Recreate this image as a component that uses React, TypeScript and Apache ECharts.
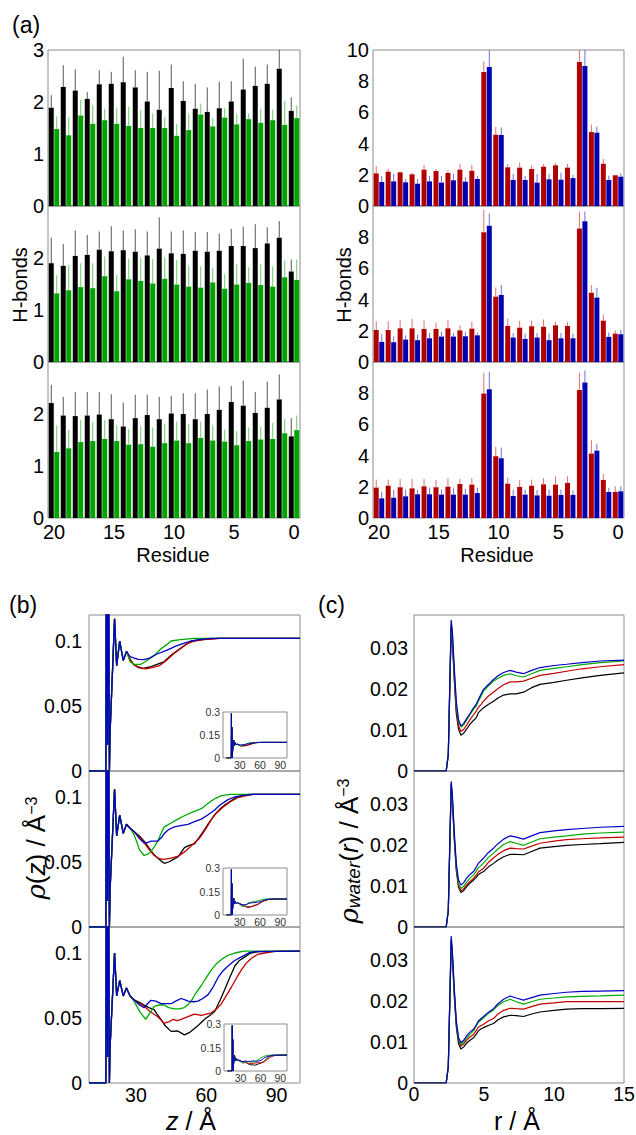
import React, { useEffect, useRef } from 'react';
import * as echarts from 'echarts';

const FONT = 'Liberation Sans, Arial, Helvetica, sans-serif';

// ---------- (a) residues ----------
const residues = ['20','19','18','17','16','15','14','13','12','11','10','9','8','7','6','5','4','3','2','1','0'];

const a1K = [1.89,2.29,2.22,2.06,2.34,2.35,2.38,2.28,2.01,1.85,2.27,2.02,1.87,1.81,1.88,2.01,2.24,2.31,2.35,2.64,1.83];
const a1KErr = [2.13,2.71,2.63,2.19,2.61,2.58,2.87,2.61,2.58,2.60,2.72,2.40,2.35,2.28,2.39,2.40,2.83,2.68,2.72,3.05,2.09];
const a1G = [1.48,1.36,1.74,1.58,1.65,1.58,1.54,1.50,1.50,1.50,1.35,1.46,1.76,1.53,1.70,1.57,1.67,1.60,1.65,1.56,1.69];
const a1GErr = [1.72,1.71,2.04,1.94,1.87,1.88,1.91,1.85,1.78,1.71,1.58,1.77,1.97,1.69,1.88,1.77,1.78,1.87,1.85,2.02,1.93];

const a2K = [1.90,1.85,2.04,2.06,2.16,2.13,2.15,2.12,2.05,2.18,2.09,2.08,2.14,2.12,2.14,2.23,2.23,2.19,2.28,2.39,1.74];
const a2KErr = [2.39,2.27,2.53,2.44,2.51,2.61,2.53,2.55,2.51,2.78,2.51,2.53,2.50,2.50,2.47,2.56,2.60,2.65,2.59,2.71,1.97];
const a2G = [1.32,1.38,1.44,1.42,1.65,1.36,1.59,1.56,1.51,1.60,1.49,1.45,1.43,1.53,1.41,1.49,1.52,1.48,1.45,1.63,1.58];
const a2GErr = [1.67,1.86,1.90,1.90,2.03,1.67,1.99,2.00,1.98,2.01,1.96,1.85,1.84,1.81,1.69,1.88,1.82,1.88,1.84,1.95,1.97];

const a3K = [2.21,1.97,1.96,1.97,1.99,1.90,1.76,1.92,1.98,1.90,2.01,2.00,1.90,2.00,2.08,2.23,2.16,2.02,2.12,2.28,1.57];
const a3KErr = [2.56,2.33,2.42,2.42,2.42,2.38,2.22,2.37,2.37,2.33,2.35,2.40,2.40,2.47,2.53,2.54,2.64,2.42,2.62,2.76,1.92];
const a3G = [1.27,1.34,1.46,1.48,1.52,1.48,1.41,1.42,1.37,1.44,1.49,1.44,1.54,1.49,1.47,1.40,1.48,1.51,1.52,1.63,1.69];
const a3GErr = [1.78,1.70,1.89,1.85,1.88,1.79,1.71,1.77,1.74,1.81,1.85,1.81,1.85,1.78,1.70,1.67,1.74,1.75,1.83,1.90,1.97];

const r1R = [2.09,2.20,2.16,2.03,2.33,2.24,2.12,2.33,2.26,8.59,4.57,2.48,2.46,2.37,2.52,2.61,2.46,9.23,4.74,2.71,1.97];
const r1RErr = [2.56,2.39,2.22,2.14,2.63,2.35,2.29,2.69,2.63,9.27,5.06,2.69,2.78,2.59,2.69,2.76,2.69,10.3,5.21,3.01,1.99];
const r1B = [1.54,1.58,1.52,1.43,1.58,1.50,1.65,1.56,1.73,8.91,4.55,1.67,1.67,1.50,1.71,1.69,1.79,8.97,4.70,1.67,1.88];
const r1BErr = [1.92,2.07,1.73,1.73,1.92,1.92,2.07,1.84,1.92,10.3,5.04,2.05,1.92,2.05,2.05,2.14,1.99,10.3,5.09,1.94,2.09];

const r2R = [2.05,2.05,2.16,2.16,2.12,2.12,2.16,2.03,2.14,8.32,4.19,2.31,2.20,2.29,2.26,2.35,2.31,8.55,4.44,2.65,1.82];
const r2RErr = [2.60,2.60,2.69,2.77,2.65,2.52,2.69,2.35,2.58,9.74,4.78,2.77,2.65,2.65,2.73,2.58,2.56,9.65,4.93,3.03,2.03];
const r2B = [1.29,1.27,1.44,1.40,1.52,1.63,1.63,1.65,1.71,8.74,4.30,1.57,1.48,1.57,1.40,1.52,1.52,9.02,4.13,1.61,1.78];
const r2BErr = [1.78,1.65,1.71,1.76,1.86,1.93,1.86,1.95,1.90,9.52,4.93,1.86,1.82,1.86,1.84,1.86,1.82,9.65,4.76,1.90,2.07];

const r3R = [1.95,2.07,1.97,1.90,2.03,1.97,2.01,2.18,2.14,7.98,3.96,2.20,1.99,2.07,2.16,2.14,2.25,8.21,4.13,2.44,1.67];
const r3RErr = [2.46,2.46,2.50,2.50,2.50,2.44,2.55,2.50,2.55,9.30,4.56,2.59,2.42,2.46,2.55,2.67,2.67,9.30,4.98,2.82,2.03];
const r3B = [1.26,1.30,1.39,1.52,1.52,1.50,1.50,1.50,1.60,8.26,3.83,1.41,1.50,1.45,1.43,1.48,1.48,8.68,4.32,1.67,1.71];
const r3BErr = [1.67,1.80,1.82,1.82,1.95,1.82,1.95,1.88,1.95,9.37,4.51,1.82,1.82,1.80,1.82,1.82,1.78,9.45,4.77,1.93,2.03];

// ---------- (b) rho(z) ----------
const b1Spike = [[10,0],[17.2,0],[17.5,0.29],[17.9,0.02],[18.3,0.2],[18.7,0.0],[19.0,0.03],[20.9,0.117],[21.8,0.081],[23.1,0.1],[24.6,0.085],[26,0.092]];
const b1Black = [[27.5,0.086],[29,0.082],[31,0.08],[33,0.079],[36,0.08],[39,0.082],[42,0.084],[45,0.089],[48,0.093],[51,0.097],[54,0.1],[58,0.101],[65,0.102],[100,0.102]];
const b1Red = [[27.5,0.086],[29,0.082],[31,0.0795],[34,0.0785],[37,0.0795],[40,0.081],[43,0.085],[46,0.09],[49,0.094],[52,0.098],[55,0.1],[59,0.101],[66,0.102],[100,0.102]];
const b1Green = [[27.5,0.084],[29.2,0.082],[32,0.082],[34,0.084],[36.4,0.087],[38.5,0.09],[40.7,0.094],[43,0.097],[45,0.1],[49,0.101],[55,0.102],[100,0.102]];
const b1Blue = [[27.5,0.088],[29,0.087],[31,0.0858],[33.5,0.0856],[36,0.087],[39,0.09],[43.3,0.093],[47,0.096],[50,0.098],[53.4,0.1],[57,0.101],[62,0.102],[100,0.102]];

const b2Spike = [[10,0],[17.2,0],[17.5,0.29],[17.9,0.02],[18.3,0.2],[18.7,0.0],[19.0,0.029],[20.9,0.106],[21.8,0.07],[23.1,0.086],[24.6,0.072],[26,0.079]];
const b2Black = [[27.5,0.076],[29.2,0.0735],[31.5,0.07],[33.5,0.066],[35.5,0.061],[37.8,0.0555],[40,0.052],[42.1,0.049],[44,0.05],[46,0.052],[48,0.054],[50.7,0.061],[53,0.063],[55,0.064],[57,0.069],[59.3,0.075],[61.5,0.081],[63.6,0.0863],[66,0.091],[68,0.094],[72.2,0.099],[78,0.102],[100,0.102]];
const b2Red = [[27.5,0.076],[29.2,0.0735],[31.5,0.069],[33.5,0.065],[35.5,0.06],[37.8,0.055],[40,0.0525],[42,0.052],[45,0.053],[48,0.0545],[51,0.058],[54,0.063],[57,0.068],[59.3,0.074],[62,0.082],[64,0.087],[67,0.092],[70,0.096],[74,0.1],[80,0.102],[100,0.102]];
const b2Green = [[27.5,0.076],[29.2,0.071],[30.5,0.065],[31.5,0.0595],[33.5,0.055],[35,0.056],[36.4,0.058],[38,0.062],[39.3,0.066],[41,0.073],[42.1,0.077],[45,0.08],[47.9,0.083],[50,0.085],[53.6,0.088],[57.9,0.091],[60,0.094],[62.2,0.097],[64,0.099],[66.5,0.101],[70,0.102],[100,0.102]];
const b2Blue = [[27.5,0.076],[29.2,0.0735],[31.5,0.068],[33.5,0.0645],[35,0.065],[36.4,0.066],[39.3,0.066],[41,0.069],[42.1,0.072],[44,0.075],[46.4,0.077],[49,0.078],[52.2,0.079],[55,0.081],[57.9,0.083],[60.5,0.086],[63.6,0.09],[66,0.094],[69.3,0.098],[72,0.1],[75,0.101],[80,0.102],[100,0.102]];

const b3Spike = [[10,0],[17.2,0],[17.5,0.29],[17.9,0.02],[18.3,0.2],[18.7,0.0],[19.0,0.028],[20.9,0.1],[21.8,0.067],[23.1,0.079],[24.6,0.067],[26,0.073]];
const b3Black = [[27.5,0.067],[29.2,0.064],[31.5,0.062],[33.5,0.06],[35.5,0.058],[37.8,0.0564],[39,0.053],[40.7,0.049],[42.5,0.044],[45,0.0397],[47.9,0.04],[50.7,0.037],[53,0.039],[55,0.042],[57,0.045],[59.3,0.049],[61.5,0.052],[63.6,0.055],[66,0.064],[67.9,0.072],[70,0.081],[72.2,0.09],[74,0.094],[76.5,0.097],[79,0.1],[82.3,0.101],[100,0.1015]];
const b3Red = [[27.5,0.067],[29.2,0.064],[31.5,0.061],[33.5,0.059],[36,0.055],[39.3,0.051],[42.1,0.046],[44,0.047],[46,0.049],[47.5,0.048],[49.3,0.049],[52.2,0.051],[55,0.053],[57.9,0.052],[60,0.053],[62.2,0.054],[64.5,0.057],[66.5,0.061],[68.5,0.067],[70.8,0.074],[73,0.081],[75,0.087],[77,0.092],[79.3,0.096],[82,0.099],[85,0.1],[90,0.1015],[100,0.1015]];
const b3Green = [[27.5,0.067],[29.2,0.063],[31,0.057],[32,0.054],[34.2,0.049],[36,0.054],[37.8,0.059],[40,0.06],[42.1,0.06],[44,0.058],[46.4,0.057],[48.5,0.057],[50.7,0.058],[52,0.06],[53.6,0.063],[55.5,0.069],[57.9,0.075],[60,0.081],[62.2,0.087],[64.5,0.092],[66.5,0.095],[69,0.098],[72.2,0.1],[76,0.1015],[100,0.1015]];
const b3Blue = [[27.5,0.067],[29.2,0.064],[31.5,0.06],[33.5,0.058],[35,0.061],[36.4,0.0636],[38.5,0.063],[40.7,0.061],[43,0.061],[45,0.061],[47,0.063],[49.3,0.065],[51,0.064],[52.2,0.063],[54.5,0.0625],[56.5,0.063],[58.5,0.065],[60.8,0.068],[63,0.074],[65,0.081],[67,0.086],[69.3,0.09],[72,0.094],[75,0.097],[78,0.1],[80.7,0.101],[100,0.1015]];

// ---------- (c) rho_water(r) ----------
const rGrid = [0,2.3,2.45,2.56,2.66,2.76,2.88,3.02,3.18,3.35,3.55,3.78,4.0,4.25,4.45,4.6,4.8,4.97,5.3,5.68,6.0,6.4,6.87,7.3,7.82,8.4,9.0,10,10.9,12,13.3,15];
const c1Blue = [0,0,0.004,0.022,0.0368,0.033,0.025,0.017,0.0125,0.011,0.0116,0.0129,0.014,0.0154,0.0163,0.0174,0.0188,0.0199,0.021,0.0223,0.0232,0.024,0.0245,0.0241,0.0237,0.0245,0.0252,0.0257,0.026,0.0264,0.0268,0.027];
const c1Green = [0,0,0.004,0.022,0.0362,0.032,0.024,0.016,0.012,0.0107,0.0112,0.0125,0.0137,0.015,0.0158,0.017,0.0183,0.0195,0.0207,0.0219,0.0226,0.0233,0.0237,0.0232,0.0229,0.0237,0.0245,0.025,0.0254,0.0259,0.0264,0.0268];
const c1Red = [0,0,0.004,0.021,0.0358,0.031,0.023,0.015,0.011,0.0096,0.0101,0.0113,0.0125,0.0137,0.0146,0.0155,0.0163,0.017,0.0182,0.0192,0.0201,0.021,0.0217,0.0217,0.0219,0.0226,0.0233,0.0238,0.0243,0.0249,0.0254,0.0259];
const c1Black = [0,0,0.004,0.02,0.0352,0.03,0.022,0.014,0.0102,0.0087,0.0092,0.0103,0.0114,0.0123,0.013,0.0142,0.0149,0.0154,0.0162,0.017,0.0178,0.0185,0.0188,0.0188,0.0192,0.0203,0.0211,0.0216,0.0221,0.0227,0.0233,0.0239];

const c2Blue = [0,0,0.004,0.021,0.0355,0.031,0.023,0.0155,0.0115,0.0102,0.0108,0.012,0.0128,0.0135,0.0146,0.0155,0.0162,0.0168,0.0181,0.0192,0.0203,0.0214,0.0222,0.0219,0.0214,0.0222,0.023,0.0234,0.0237,0.024,0.0243,0.0245];
const c2Green = [0,0,0.004,0.021,0.035,0.03,0.022,0.0148,0.0106,0.0094,0.0099,0.011,0.0119,0.0127,0.0136,0.0144,0.015,0.0156,0.0169,0.018,0.019,0.0201,0.0208,0.0204,0.0199,0.0207,0.0215,0.0219,0.0222,0.0226,0.0229,0.0231];
const c2Red = [0,0,0.004,0.02,0.0348,0.03,0.022,0.0143,0.0101,0.0088,0.0093,0.0103,0.0111,0.0118,0.0127,0.0134,0.0139,0.0143,0.0157,0.0168,0.0177,0.0186,0.0192,0.0191,0.019,0.0197,0.0204,0.0209,0.0213,0.0215,0.0217,0.0219];
const c2Black = [0,0,0.004,0.02,0.0345,0.029,0.021,0.0138,0.0097,0.0084,0.0089,0.0099,0.0107,0.0114,0.0121,0.0128,0.0132,0.0135,0.0146,0.0155,0.0163,0.0171,0.0177,0.0177,0.0176,0.0184,0.0192,0.0196,0.0199,0.0201,0.0203,0.0206];

const c3Blue = [0,0,0.004,0.021,0.0358,0.031,0.023,0.0152,0.0111,0.0098,0.0104,0.0116,0.0124,0.0131,0.0142,0.0151,0.0157,0.0162,0.0172,0.0181,0.0193,0.0204,0.0212,0.0207,0.0202,0.0208,0.0214,0.0218,0.0221,0.0223,0.0224,0.0225];
const c3Green = [0,0,0.004,0.021,0.0352,0.03,0.022,0.0148,0.0106,0.0094,0.0099,0.011,0.0119,0.0127,0.0139,0.0148,0.0154,0.0159,0.0169,0.0178,0.0189,0.0198,0.0204,0.0198,0.0192,0.0198,0.0204,0.0207,0.021,0.0211,0.0212,0.0214];
const c3Red = [0,0,0.004,0.02,0.0348,0.03,0.022,0.0145,0.0103,0.009,0.0095,0.0105,0.0112,0.0118,0.0128,0.0136,0.014,0.0143,0.0151,0.0157,0.0168,0.0177,0.0182,0.0181,0.018,0.0186,0.0192,0.0195,0.0198,0.0198,0.0198,0.0198];
const c3Black = [0,0,0.004,0.02,0.0345,0.029,0.021,0.0137,0.0096,0.0083,0.0088,0.0098,0.0104,0.011,0.0119,0.0127,0.0132,0.0135,0.014,0.0145,0.0154,0.0161,0.0165,0.0164,0.0162,0.0168,0.0173,0.0177,0.018,0.0181,0.0181,0.0182];

const hbTicksLeft = [0, 1, 2, 3];
const hbTicksRight = [0, 2, 4, 6, 8, 10];
const zTicks = [30, 60, 90];
const rhoZTicks = [0, 0.05, 0.1];
const insetYTicks = [0, 0.15, 0.3];
const rTicks = [0, 5, 10, 15];
const rhoRTicks = [0, 0.01, 0.02, 0.03];

// ---------- colours ----------
const COL = {
  barK: '#000000', barG: '#00a400', barR: '#b00000', barB: '#0000b0',
  errK: '#555555', errG: '#66cc66', errR: '#dd7070', errB: '#7070e0',
  lnK: '#000000', lnR: '#c40000', lnG: '#00aa00', lnB: '#0000c8',
};

function buildOption() {
  const grids: any[] = [
    { left: 48, top: 50, width: 252, height: 156 },
    { left: 48, top: 206, width: 252, height: 156 },
    { left: 48, top: 362, width: 252, height: 156 },
    { left: 373, top: 50, width: 251, height: 156 },
    { left: 373, top: 206, width: 251, height: 156 },
    { left: 373, top: 362, width: 251, height: 156 },
    { left: 89, top: 615, width: 211, height: 156 },
    { left: 89, top: 771, width: 211, height: 156 },
    { left: 89, top: 927, width: 211, height: 156 },
    { left: 223, top: 712, width: 64, height: 46 },
    { left: 223, top: 868, width: 64, height: 47 },
    { left: 224, top: 1024, width: 63, height: 47 },
    { left: 414, top: 615, width: 210, height: 156 },
    { left: 414, top: 771, width: 210, height: 156 },
    { left: 414, top: 927, width: 210, height: 156 },
  ].map((g, i) => ({
    ...g,
    show: true,
    borderColor: '#8c8c8c',
    borderWidth: 1,
    backgroundColor: i >= 9 && i <= 11 ? '#ffffff' : 'transparent',
    containLabel: false,
    outerBoundsMode: 'none',
    z: i >= 9 && i <= 11 ? 5 : 0,
  }));

  const xAxes: any[] = [];
  const yAxes: any[] = [];
  const series: any[] = [];

  const hidden = { axisLine: { show: false }, axisTick: { show: false }, splitLine: { show: false } };
  const lbl = (size: number, extra: any = {}) => ({ fontSize: size, lineHeight: size, color: '#000', fontFamily: FONT, ...extra });

  // bar panels
  const barPanels = [
    { g: 0, max: 3, ticks: hbTicksLeft, bottom: false, top: true, k: a1K, ke: a1KErr, s: a1G, se: a1GErr, c1: COL.barK, c2: COL.barG, e1: COL.errK, e2: COL.errG },
    { g: 1, max: 3, ticks: hbTicksLeft, bottom: false, top: false, k: a2K, ke: a2KErr, s: a2G, se: a2GErr, c1: COL.barK, c2: COL.barG, e1: COL.errK, e2: COL.errG },
    { g: 2, max: 3, ticks: hbTicksLeft, bottom: true, top: false, k: a3K, ke: a3KErr, s: a3G, se: a3GErr, c1: COL.barK, c2: COL.barG, e1: COL.errK, e2: COL.errG },
    { g: 3, max: 10, ticks: hbTicksRight, bottom: false, top: true, k: r1R, ke: r1RErr, s: r1B, se: r1BErr, c1: COL.barR, c2: COL.barB, e1: COL.errR, e2: COL.errB },
    { g: 4, max: 10, ticks: hbTicksRight, bottom: false, top: false, k: r2R, ke: r2RErr, s: r2B, se: r2BErr, c1: COL.barR, c2: COL.barB, e1: COL.errR, e2: COL.errB },
    { g: 5, max: 10, ticks: hbTicksRight, bottom: true, top: false, k: r3R, ke: r3RErr, s: r3B, se: r3BErr, c1: COL.barR, c2: COL.barB, e1: COL.errR, e2: COL.errB },
  ];
  barPanels.forEach((p) => {
    xAxes.push({
      type: 'category', gridIndex: p.g, data: residues, boundaryGap: true, ...hidden,
      axisLabel: lbl(20, { lineHeight: 18, show: p.bottom, margin: 5, interval: (_i: number, v: string) => Number(v) % 5 === 0 }),
    });
    const tv = p.top ? p.ticks : p.ticks.slice(0, -1);
    yAxes.push({
      type: 'value', gridIndex: p.g, min: 0, max: p.max, ...hidden,
      axisLabel: lbl(20, { margin: 4, customValues: tv }),
    });
    const ax = xAxes.length - 1;
    const mk = (vals: number[], errs: number[], col: string, ecol: string, off: number) => {
      series.push({ type: 'bar', xAxisIndex: ax, yAxisIndex: ax, data: vals, barWidth: 5, barGap: '10%', itemStyle: { color: col }, silent: true, z: 2 });
      series.push({
        type: 'custom', xAxisIndex: ax, yAxisIndex: ax, silent: true, z: 3,
        data: vals.map((v, i) => [i, v, errs[i]]),
        renderItem: (_params: any, api: any) => {
          const i = api.value(0); const v = api.value(1); const e = Math.min(api.value(2), p.max);
          const a = api.coord([i, v]); const b = api.coord([i, e]);
          return { type: 'line', shape: { x1: a[0] + off, y1: a[1], x2: a[0] + off, y2: b[1] }, style: { stroke: ecol, lineWidth: 1 } };
        },
      });
    };
    mk(p.k, p.ke, p.c1, p.e1, -2.75);
    mk(p.s, p.se, p.c2, p.e2, 2.75);
  });

  // (b) panels and insets
  const bSets = [
    { spike: b1Spike, k: b1Black, r: b1Red, gr: b1Green, b: b1Blue },
    { spike: b2Spike, k: b2Black, r: b2Red, gr: b2Green, b: b2Blue },
    { spike: b3Spike, k: b3Black, r: b3Red, gr: b3Green, b: b3Blue },
  ];
  const bCurves = (s: any) => [
    { d: [...s.spike, ...s.k], c: COL.lnK },
    { d: [...s.spike, ...s.r], c: COL.lnR },
    { d: [...s.spike, ...s.gr], c: COL.lnG },
    { d: [...s.spike, ...s.b], c: COL.lnB },
  ];
  bSets.forEach((s, j) => {
    xAxes.push({ type: 'value', gridIndex: 6 + j, min: 10, max: 100, ...hidden, axisLabel: lbl(19.5, { lineHeight: 16, show: j === 2, margin: 4, customValues: zTicks }) });
    yAxes.push({ type: 'value', gridIndex: 6 + j, min: 0, max: 0.12, ...hidden, axisLabel: lbl(19.5, { margin: 7, customValues: rhoZTicks }) });
    const ax = xAxes.length - 1;
    bCurves(s).forEach((cv) => series.push({ type: 'line', xAxisIndex: ax, yAxisIndex: ax, data: cv.d, symbol: 'none', silent: true, lineStyle: { color: cv.c, width: 1.3 }, z: 2 }));
  });
  bSets.forEach((s, j) => {
    xAxes.push({ type: 'value', gridIndex: 9 + j, min: 5, max: 100, ...hidden, axisLabel: lbl(10.5, { color: '#333', margin: 2, customValues: zTicks }) });
    yAxes.push({ type: 'value', gridIndex: 9 + j, min: 0, max: 0.3, ...hidden, axisLabel: lbl(10.5, { color: '#333', margin: 3, customValues: insetYTicks }) });
    const ax = xAxes.length - 1;
    bCurves(s).forEach((cv) => series.push({ type: 'line', xAxisIndex: ax, yAxisIndex: ax, data: cv.d, symbol: 'none', silent: true, lineStyle: { color: cv.c, width: 1 }, z: 6 }));
  });

  // (c) panels
  const cSets = [
    [c1Black, c1Red, c1Green, c1Blue],
    [c2Black, c2Red, c2Green, c2Blue],
    [c3Black, c3Red, c3Green, c3Blue],
  ];
  const cCols = [COL.lnK, COL.lnR, COL.lnG, COL.lnB];
  cSets.forEach((set, j) => {
    xAxes.push({ type: 'value', gridIndex: 12 + j, min: 0, max: 15, ...hidden, axisLabel: lbl(19.5, { lineHeight: 16, show: j === 2, margin: 3, customValues: rTicks }) });
    yAxes.push({ type: 'value', gridIndex: 12 + j, min: 0, max: 0.038, ...hidden, axisLabel: lbl(19.5, { margin: 6, customValues: rhoRTicks }) });
    const ax = xAxes.length - 1;
    set.forEach((vals, k) => series.push({
      type: 'line', xAxisIndex: ax, yAxisIndex: ax, data: rGrid.map((r, i) => [r, vals[i]]), symbol: 'none', silent: true,
      lineStyle: { color: cCols[k], width: 1.2 }, z: 2,
    }));
  });

  const txt = (x: number, y: number, text: string, size: number, extra: any = {}, rot = 0) => ({
    type: 'text', x, y, rotation: rot, z: 10,
    style: { text, fontSize: size, fontFamily: FONT, fill: '#000', align: 'center', verticalAlign: 'middle', ...extra },
  });

  const graphic = [
    txt(12, 25, '(a)', 23, { align: 'left' }),
    txt(20, 285, 'H-bonds', 20, {}, Math.PI / 2),
    txt(344, 285, 'H-bonds', 20, {}, Math.PI / 2),
    txt(173, 555, 'Residue', 20, { lineHeight: 20 }),
    txt(497, 555, 'Residue', 20, { lineHeight: 20 }),
    txt(9, 605, '(b)', 23, { align: 'left' }),
    txt(318, 605, '(c)', 23, { align: 'left' }),
    txt(36, 848, '{g|ρ}({i|z}) / Å{s|−3}', 26, {
      rich: {
        g: { fontSize: 26, fontStyle: 'italic', fontFamily: 'DejaVu Serif' },
        i: { fontSize: 26, fontStyle: 'italic', fontFamily: FONT },
        s: { fontSize: 16, fontFamily: FONT, verticalAlign: 'top', padding: [0, 0, 8, 0] },
      },
    }, Math.PI / 2),
    txt(349, 851, '{g|ρ}{w|water}({i|r}) / Å{s|−3}', 26, {
      rich: {
        g: { fontSize: 26, fontStyle: 'italic', fontFamily: 'DejaVu Serif' },
        w: { fontSize: 19, fontStyle: 'italic', fontFamily: FONT, verticalAlign: 'bottom', padding: [8, 0, 0, 0] },
        i: { fontSize: 26, fontStyle: 'italic', fontFamily: FONT },
        s: { fontSize: 16, fontFamily: FONT, verticalAlign: 'top', padding: [0, 0, 8, 0] },
      },
    }, Math.PI / 2),
    txt(191, 1121, '{i|z} / Å', 25, { lineHeight: 24, rich: { i: { fontSize: 25, lineHeight: 24, fontStyle: 'italic', fontFamily: FONT } } }),
    txt(517, 1121, 'r / Å', 25, { lineHeight: 24 }),
  ];

  return {
    animation: false,
    backgroundColor: '#ffffff',
    textStyle: { fontFamily: FONT },
    grid: grids,
    xAxis: xAxes,
    yAxis: yAxes,
    series,
    graphic,
  };
}

export default function App() {
  const ref = useRef<HTMLDivElement>(null);
  useEffect(() => {
    if (!ref.current) return;
    const chart = echarts.init(ref.current, null, { renderer: 'svg' });
    chart.setOption(buildOption() as any);
    return () => chart.dispose();
  }, []);
  return <div ref={ref} style={{ position: 'absolute', left: 0, top: 0, width: 636, height: 1135 }} />;
}
